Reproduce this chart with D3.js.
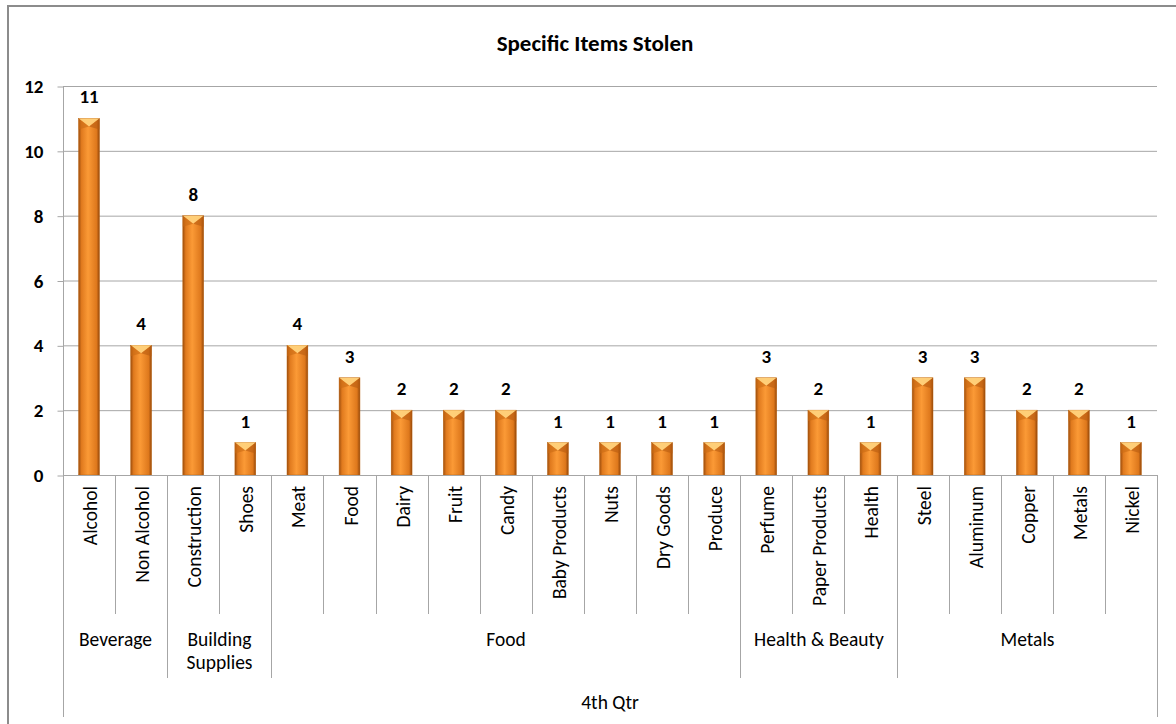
<!DOCTYPE html>
<html>
<head>
<meta charset="utf-8">
<script src="https://cdn.jsdelivr.net/npm/d3@7"></script>
<style>
  body { margin: 0; background: #fff; }
  svg text { font-family: Calibri, Carlito, Lato, sans-serif; fill: #000; }
</style>
</head>
<body>
<svg id="chart" width="1176" height="724"></svg>
<script>
// data
var items = ["Alcohol", "Non Alcohol", "Construction", "Shoes", "Meat", "Food", "Dairy", "Fruit",
             "Candy", "Baby Products", "Nuts", "Dry Goods", "Produce", "Perfume", "Paper Products",
             "Health", "Steel", "Aluminum", "Copper", "Metals", "Nickel"];
var values = [11, 4, 8, 1, 4, 3, 2, 2, 2, 1, 1, 1, 1, 3, 2, 1, 3, 3, 2, 2, 1];
var groupNames = [["Beverage"], ["Building", "Supplies"], ["Food"], ["Health & Beauty"], ["Metals"]];
var groupSizes = [2, 2, 9, 3, 5];
var quarter = "4th Qtr";
var yTicks = [0, 2, 4, 6, 8, 10, 12];

var svg = d3.select("#chart");

/* chart frame */
svg.append("rect").attr("x", 8).attr("y", 6).attr("width", 1180).attr("height", 740)
  .attr("fill", "none").attr("stroke", "#8c8c8c").attr("stroke-width", 2);

var plot = { left: 63, right: 1157, top: 86, bottom: 475 };

var x = d3.scaleBand().domain(items).range([plot.left, plot.right])
  .paddingInner(0.6).paddingOuter(0.3);
var y = d3.scaleLinear().domain([0, 12]).range([plot.bottom, plot.top]);

/* title */
svg.append("text").attr("x", 595).attr("y", 51).attr("text-anchor", "middle")
  .style("font-size", "23px").style("font-weight", "bold").text("Specific Items Stolen");

/* gridlines */
svg.append("g").selectAll("line").data(yTicks.slice(1)).enter().append("line")
  .attr("x1", plot.left).attr("x2", plot.right)
  .attr("y1", function(d){ return y(d) + 0.5; }).attr("y2", function(d){ return y(d) + 0.5; })
  .attr("stroke", "#a6a6a6").attr("stroke-width", 1);

/* y axis */
var yAxis = svg.append("g").attr("transform", "translate(" + (plot.left + 0.5) + ",0.5)")
  .call(d3.axisLeft(y).tickValues(yTicks).tickSize(6).tickSizeOuter(0).tickPadding(14));
yAxis.select(".domain").remove();
yAxis.selectAll("line").attr("stroke", "#a6a6a6");
yAxis.selectAll("text").style("font-size", "19px").style("font-weight", "bold")
  .style("font-family", "Calibri, Carlito, Lato, sans-serif").attr("fill", "#000");

/* bar gradient */
var defs = svg.append("defs");
var grad = defs.append("linearGradient").attr("id", "barGrad")
  .attr("x1", "0%").attr("x2", "100%").attr("y1", "0%").attr("y2", "0%");
grad.append("stop").attr("offset", "0%").attr("stop-color", "#9e4e0d");
grad.append("stop").attr("offset", "14%").attr("stop-color", "#e07a1e");
grad.append("stop").attr("offset", "45%").attr("stop-color", "#fb9a36");
grad.append("stop").attr("offset", "86%").attr("stop-color", "#de781c");
grad.append("stop").attr("offset", "100%").attr("stop-color", "#944709");

var bw = x.bandwidth();
var bars = svg.append("g").selectAll("g").data(items).enter().append("g");

bars.append("rect")
  .attr("x", function(d){ return x(d); })
  .attr("y", function(d, i){ return y(values[i]); })
  .attr("width", bw)
  .attr("height", function(d, i){ return plot.bottom - y(values[i]); })
  .attr("fill", "url(#barGrad)")
  .attr("stroke", "#b8600f").attr("stroke-width", 0.5);

// top bevel
bars.append("path")
  .attr("d", function(d, i){
    var x0 = x(d), t = y(values[i]), b = 8;
    return "M" + x0 + "," + t + "L" + (x0 + bw) + "," + t +
           "L" + (x0 + bw / 2) + "," + (t + b) + "Z";
  })
  .attr("fill", "#ffd27c").attr("opacity", 0.95);
bars.append("path")
  .attr("d", function(d, i){
    var x0 = x(d), t = y(values[i]), b = 8;
    return "M" + x0 + "," + t + "L" + (x0 + bw / 2) + "," + (t + b) + "L" + x0 + "," + (t + b + 3) + "Z";
  })
  .attr("fill", "#c96a14").attr("opacity", 0.6);
bars.append("path")
  .attr("d", function(d, i){
    var x0 = x(d), t = y(values[i]), b = 8;
    return "M" + (x0 + bw) + "," + t + "L" + (x0 + bw / 2) + "," + (t + b) + "L" + (x0 + bw) + "," + (t + b + 3) + "Z";
  })
  .attr("fill", "#b85c10").attr("opacity", 0.6);

// value labels
bars.append("text")
  .attr("x", function(d){ return x(d) + bw / 2; })
  .attr("y", function(d, i){ return y(values[i]) - 15; })
  .attr("text-anchor", "middle")
  .style("font-size", "19px").style("font-weight", "bold")
  .text(function(d, i){ return values[i]; });

/* category axis lines */
var step = x.step();
var edge = function(k){ return Math.round(plot.left + k * step) + 0.5; };
var groupEdges = [0];
groupSizes.forEach(function(s, i){ groupEdges.push(groupEdges[i] + s); });

var axisG = svg.append("g");
axisG.append("line").attr("x1", plot.left).attr("x2", plot.right)
  .attr("y1", plot.bottom + 0.5).attr("y2", plot.bottom + 0.5).attr("stroke", "#a6a6a6");

d3.range(0, items.length + 1).forEach(function(k){
  var yEnd = 614;
  if (k === 0 || k === items.length) yEnd = 717;
  else if (groupEdges.indexOf(k) >= 0) yEnd = 678;
  axisG.append("line").attr("x1", edge(k)).attr("x2", edge(k))
    .attr("y1", k === 0 ? plot.top : plot.bottom).attr("y2", yEnd)
    .attr("stroke", "#a6a6a6");
});

/* item labels */
svg.append("g").selectAll("text").data(items).enter().append("text")
  .attr("transform", function(d){ return "translate(" + (x(d) + bw / 2 + 8) + ",486) rotate(-90)"; })
  .attr("text-anchor", "end")
  .style("font-size", "19.5px")
  .text(function(d){ return d; });

/* group labels */
groupNames.forEach(function(lines, i){
  var cx = (edge(groupEdges[i]) + edge(groupEdges[i + 1])) / 2;
  lines.forEach(function(l, j){
    svg.append("text").attr("x", cx).attr("y", 646 + j * 23).attr("text-anchor", "middle")
      .style("font-size", "19.5px").text(l);
  });
});

svg.append("text").attr("x", (plot.left + plot.right) / 2).attr("y", 709).attr("text-anchor", "middle")
  .style("font-size", "19.5px").text(quarter);
</script>
</body>
</html>
